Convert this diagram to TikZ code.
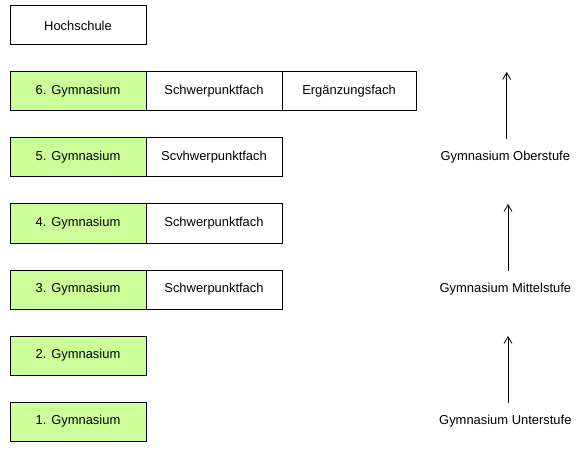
\documentclass[tikz,border=0pt]{standalone}
\usepackage{fontspec}
\setmainfont{Liberation Sans}
\usepackage{xcolor}
\usetikzlibrary{arrows.meta, positioning}

\definecolor{gymgreen}{HTML}{CCFF99}

\begin{document}
\begin{tikzpicture}[
    node distance=20.25pt and 0pt,
    box/.style={rectangle, draw, line width=0.75pt, minimum width=102pt, minimum height=29.25pt, inner sep=0pt, outer sep=0pt, font=\fontsize{9.7}{11}\selectfont},
    gym/.style={box, fill=gymgreen},
    stage/.style={font=\fontsize{9.7}{11}\selectfont, inner sep=2pt},
    arrow/.style={-{Straight Barb[length=5pt, width=6pt]}, line width=0.6pt}
]
\useasboundingbox (0,0) rectangle (441pt,-339pt);

% University
\node[box] (hoch) at (58.5pt,-19.125pt) {Hochschule};

% Gymnasium years
\node[gym, below=of hoch] (g6) {6. Gymnasium};
\node[box, right=of g6] (s6) {Schwerpunktfach};
\node[box, right=of s6, minimum width=100.5pt] (e6) {Ergänzungsfach};

\node[gym, below=of g6] (g5) {5. Gymnasium};
\node[box, right=of g5] (s5) {Scvhwerpunktfach};

\node[gym, below=of g5] (g4) {4. Gymnasium};
\node[box, right=of g4] (s4) {Schwerpunktfach};

\node[gym, below=of g4] (g3) {3. Gymnasium};
\node[box, right=of g3] (s3) {Schwerpunktfach};

\node[gym, below=of g3] (g2) {2. Gymnasium};

\node[gym, below=of g2] (g1) {1. Gymnasium};

% Stages
\node[stage] (ober) at (g5 -| 379pt,0) {Gymnasium Oberstufe};
\node[stage] (mittel) at (g3 -| 379pt,0) {Gymnasium Mittelstufe};
\node[stage] (unter) at (g1 -| 379pt,0) {Gymnasium Unterstufe};

\coordinate (obertip) at ([xshift=1pt]ober |- g6.north);
\coordinate (mitteltip) at ([xshift=2pt]mittel |- g4.north);
\coordinate (untertip) at ([xshift=2pt]unter |- g2.north);

% Arrows
\draw[arrow, shorten <=7pt] ([xshift=1pt]ober.north) -- (obertip);
\draw[arrow, shorten <=7pt] ([xshift=2pt]mittel.north) -- (mitteltip);
\draw[arrow, shorten <=7pt] ([xshift=2pt]unter.north) -- (untertip);

\end{tikzpicture}
\end{document}
